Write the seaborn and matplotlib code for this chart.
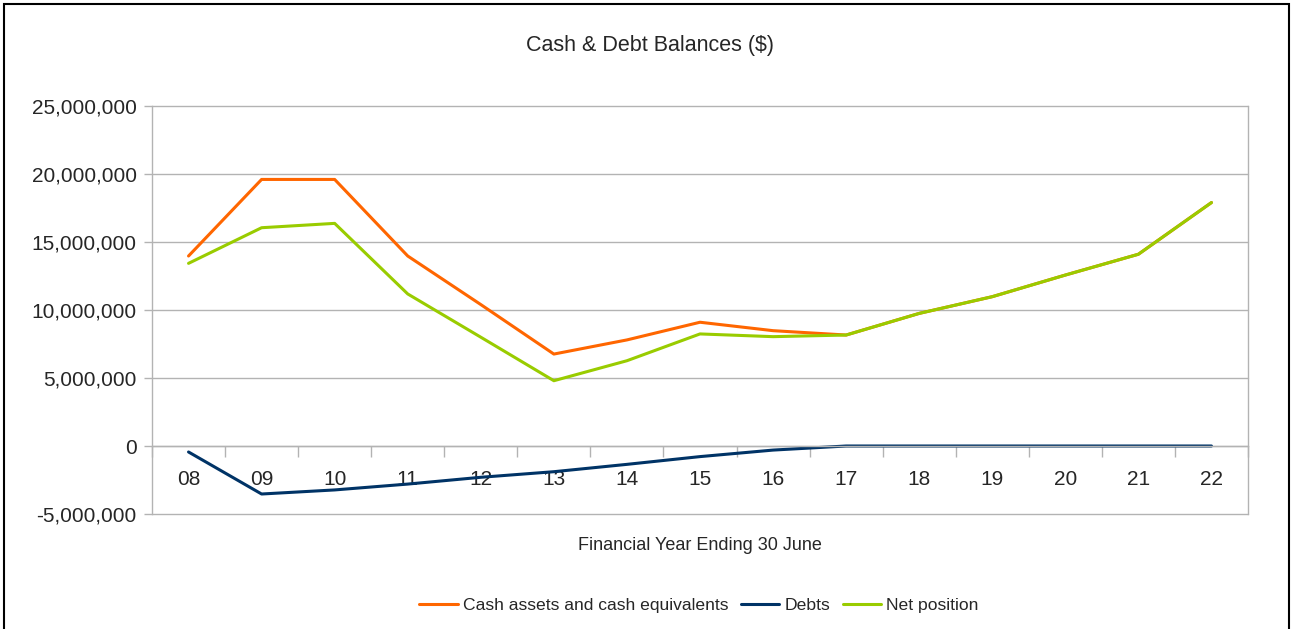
import numpy as np
import pandas as pd
import matplotlib
matplotlib.use("Agg")
import matplotlib.pyplot as plt
import seaborn as sns
from matplotlib.ticker import FuncFormatter, FixedLocator
from matplotlib.patches import Rectangle

years = ["08", "09", "10", "11", "12", "13", "14", "15", "16", "17", "18", "19", "20", "21", "22"]
cash = [13970000, 19600000, 19600000, 13970000, 10400000, 6760000, 7800000, 9100000,
        8480000, 8160000, 9750000, 10980000, 12570000, 14100000, 17900000]
debts = [-440000, -3530000, -3230000, -2800000, -2300000, -1890000, -1350000, -780000,
         -300000, 0, 0, 0, 0, 0, 0]
net = [13430000, 16050000, 16370000, 11180000, 8000000, 4800000, 6270000, 8240000,
       8040000, 8160000, 9750000, 10980000, 12570000, 14100000, 17900000]

series_names = ["Cash assets and cash equivalents", "Debts", "Net position"]
colors = ["#ff6600", "#003366", "#99cc00"]

rows = []
for name, vals in zip(series_names, [cash, debts, net]):
    for i, v in enumerate(vals):
        rows.append({"pos": i, "value": v, "series": name})
df = pd.DataFrame(rows)

sns.set_style("white")
plt.rcParams["font.family"] = ["Liberation Sans", "DejaVu Sans"]

fig = plt.figure(figsize=(12.93, 6.29), dpi=100)
ax = fig.add_axes([152 / 1293, 1 - 514 / 629, (1248 - 152) / 1293, (514 - 106) / 629])

sns.lineplot(data=df, x="pos", y="value", hue="series", palette=colors,
             hue_order=series_names, linewidth=2.2, ax=ax, legend=False)

ax.set_xlim(-0.5, len(years) - 0.5)
ax.set_ylim(-5000000, 25000000)
ax.set_yticks(np.arange(-5000000, 25000001, 5000000))
ax.yaxis.set_major_formatter(FuncFormatter(lambda v, p: f"{int(v):,}"))
ax.grid(axis="y", color="#b3b3b3", linewidth=1)
for gl in ax.get_ygridlines():
    gl.set_clip_on(False)
ax.set_axisbelow(True)

ax.set_xticks(range(len(years)))
ax.set_xticklabels(years)
ax.xaxis.set_minor_locator(FixedLocator(np.arange(-0.5, len(years), 1.0)))
ax.tick_params(axis="x", which="major", bottom=True, length=0, pad=17, labelsize=15)
ax.tick_params(axis="x", which="minor", bottom=True, length=8, width=1, color="#b3b3b3",
               direction="out")
ax.tick_params(axis="y", left=True, length=6, width=1, color="#b3b3b3", direction="out",
               labelsize=15, pad=5)

ax.spines["bottom"].set_position(("data", 0))
for s in ["left", "right", "bottom"]:
    ax.spines[s].set_color("#b3b3b3")
    ax.spines[s].set_linewidth(1)
ax.spines["top"].set_visible(False)

ax.set_xlabel("")
ax.set_ylabel("")
fig.text(650 / 1293, 1 - 45 / 629, "Cash & Debt Balances ($)", ha="center", va="center", fontsize=15.5)
fig.text(700 / 1293, 1 - 546 / 629, "Financial Year Ending 30 June", ha="center", va="center", fontsize=13)

handles = [plt.Line2D([], [], color=c, linewidth=2.2) for c in colors]
fig.legend(handles, series_names, loc="center", bbox_to_anchor=(699 / 1293, 1 - 605 / 629),
           ncol=3, frameon=False, fontsize=12.6, handlelength=2.2, handletextpad=0.3,
           columnspacing=0.7)

fig.patches.append(Rectangle((4 / 1293, -0.01), 1285 / 1293, 1 - 4 / 629 + 0.01,
                             transform=fig.transFigure, fill=False, edgecolor="black",
                             linewidth=1.5))

fig.savefig("out.png", dpi=100)
